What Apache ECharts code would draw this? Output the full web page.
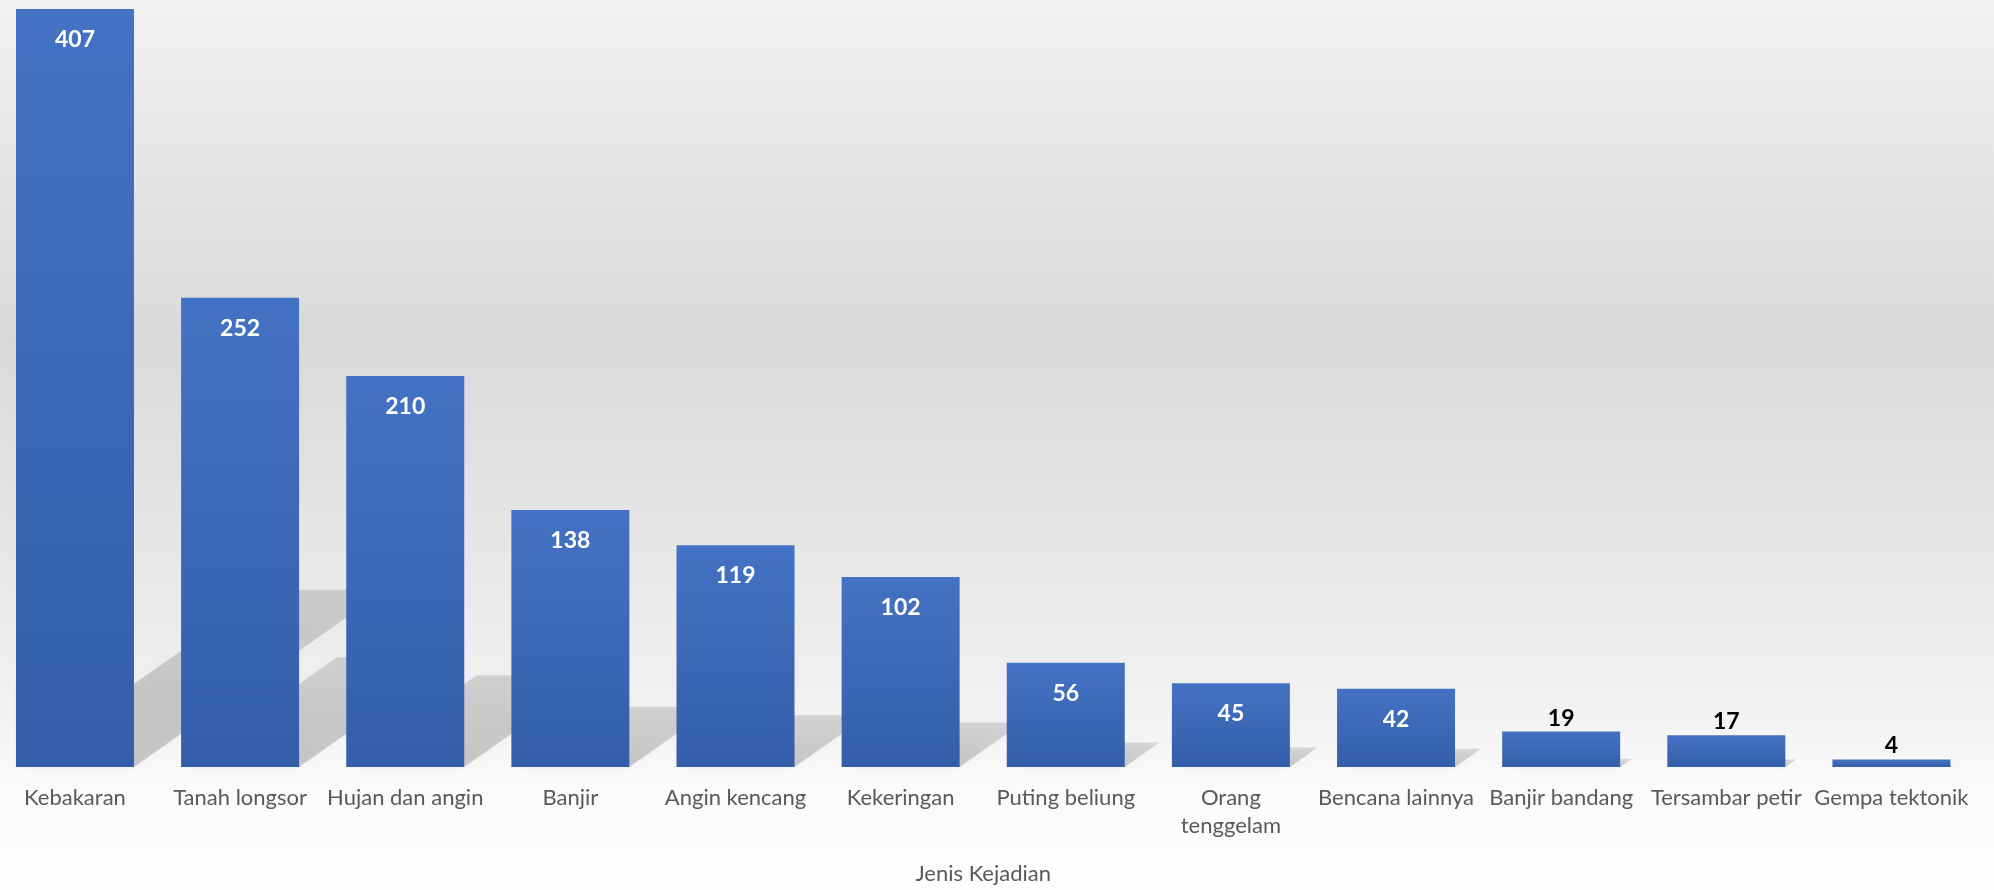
<!DOCTYPE html>
<html><head><meta charset="utf-8">
<script src="https://cdn.jsdelivr.net/npm/echarts@6/dist/echarts.min.js"></script>
<style>html,body{margin:0;padding:0;background:#fff;overflow:hidden}#c{position:absolute;left:-8px;top:0;width:2002px;height:890px}</style>
</head><body><div id="c"></div>
<script>
const categories = ['Kebakaran','Tanah longsor','Hujan dan angin','Banjir','Angin kencang','Kekeringan','Puting beliung','Orang\ntenggelam','Bencana lainnya','Banjir bandang','Tersambar petir','Gempa tektonik'];
const values = [407,252,210,138,119,102,56,45,42,19,17,4];
const axisTitle = 'Jenis Kejadian';

const BAR_RATIO = 118 / 165.14;
const FONT = 'Lato';
const chart = echarts.init(document.getElementById('c'), null, {renderer: 'canvas'});

const barData = values.map(v => v >= 30 ? {value: v} : {
  value: v,
  label: {position: 'top', color: '#000000', distance: 2}
});

chart.setOption({
  animation: false,
  backgroundColor: {
    type: 'linear', x: 0, y: 0, x2: 0, y2: 1,
    colorStops: [
      {offset: 0, color: '#f2f2f2'},
      {offset: 0.38, color: '#d9d9d9'},
      {offset: 0.80, color: '#f2f2f2'},
      {offset: 0.88, color: '#fafafa'},
      {offset: 1, color: '#fefefe'}
    ]
  },
  grid: {left: 0.4, right: 20, top: 9, bottom: 122, containLabel: false},
  xAxis: {
    type: 'category',
    data: categories,
    axisLine: {show: false},
    axisTick: {show: false},
    axisLabel: {
      interval: 0, margin: 17, color: '#595959',
      fontFamily: FONT, fontSize: 22, lineHeight: 28
    },
    name: axisTitle,
    nameLocation: 'middle',
    nameGap: 96,
    nameTextStyle: {color: '#595959', fontFamily: FONT, fontSize: 22}
  },
  yAxis: {
    type: 'value', min: 0, max: Math.max.apply(null, values), show: false,
    splitLine: {show: false}
  },
  series: [
    {
      type: 'custom',
      z: 1,
      silent: true,
      data: values.map((v, i) => [i, v]),
      encode: {x: 0, y: 1},
      renderItem: function (params, api) {
        const i = api.value(0), v = api.value(1);
        const top = api.coord([i, v]);
        const base = api.coord([i, 0]);
        const w = api.size([1, 0])[0] * BAR_RATIO;
        const h = (base[1] - top[1]) * 0.234;
        const dx = h * 1.42;
        const x0 = base[0] - w / 2, x1 = base[0] + w / 2, y0 = base[1];
        return {
          type: 'polygon',
          shape: {points: [[x0, y0], [x1, y0], [x1 + dx, y0 - h], [x0 + dx, y0 - h]]},
          style: {
            fill: {
              type: 'linear', x: 0, y: 1, x2: 0, y2: 0,
              colorStops: [{offset: 0, color: 'rgba(0,0,0,0.19)'}, {offset: 1, color: 'rgba(0,0,0,0.12)'}]
            },
            shadowBlur: 10, shadowColor: 'rgba(0,0,0,0.15)'
          }
        };
      }
    },
    {
      type: 'bar',
      z: 2,
      data: barData,
      barWidth: (BAR_RATIO * 100) + '%',
      itemStyle: {
        color: {
          type: 'linear', x: 0, y: 0, x2: 0, y2: 1,
          colorStops: [{offset: 0, color: '#4472c4'}, {offset: 1, color: '#345ea8'}]
        }
      },
      label: {
        show: true, position: 'insideTop', distance: 19,
        color: '#ffffff', fontWeight: 'bold', fontFamily: FONT, fontSize: 23
      }
    }
  ]
});
</script></body></html>
